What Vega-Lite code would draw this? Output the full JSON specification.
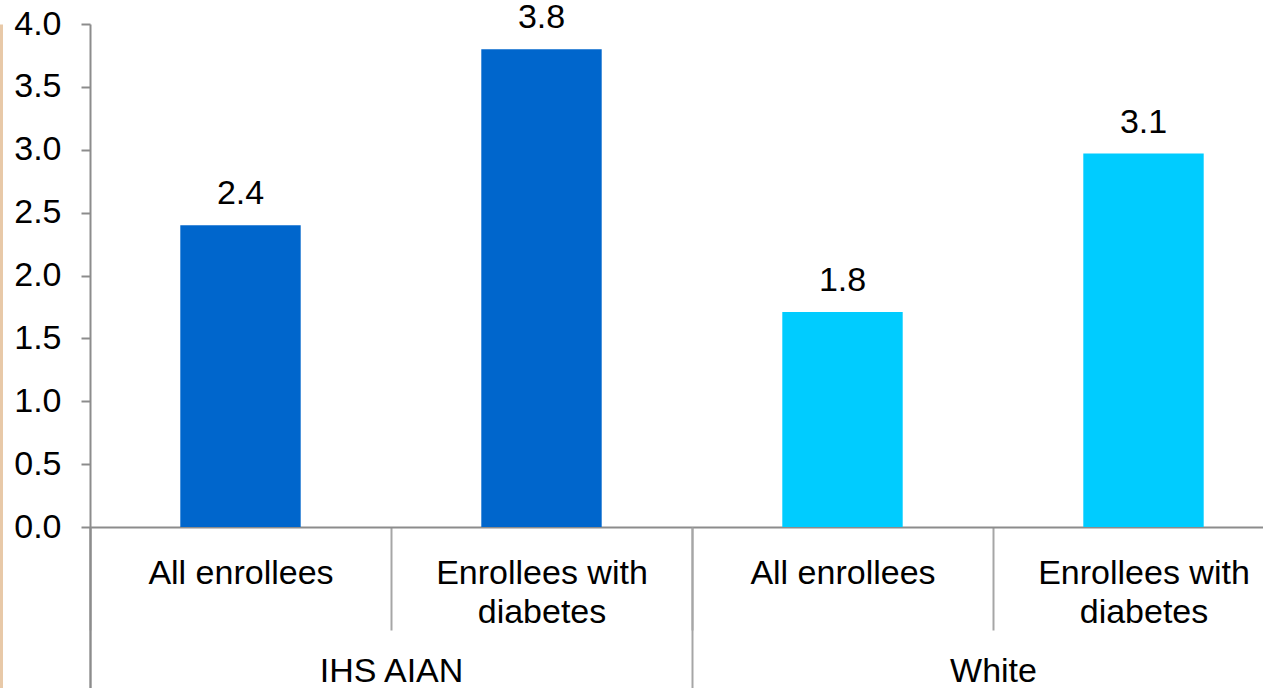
{
  "$schema": "https://vega.github.io/schema/vega-lite/v6.json",
  "width": 1173,
  "height": 664,
  "autosize": {"type": "none"},
  "padding": {"left": 90, "top": 24, "right": 0, "bottom": 0},
  "background": "white",
  "config": {"view": {"stroke": null}, "font": "Liberation Sans"},
  "data": {"values": [
    {"category": "IHS AIAN|All enrollees", "group": "IHS AIAN", "value": 2.4, "label": "2.4"},
    {"category": "IHS AIAN|Enrollees with diabetes", "group": "IHS AIAN", "value": 3.8, "label": "3.8"},
    {"category": "White|All enrollees", "group": "White", "value": 1.71, "label": "1.8"},
    {"category": "White|Enrollees with diabetes", "group": "White", "value": 2.97, "label": "3.1"}
  ]},
  "layer": [
    {
      "layer": [
        {
          "mark": {"type": "bar", "width": {"band": 0.4}},
          "encoding": {
            "x": {"field": "category", "type": "nominal", "sort": null,
              "scale": {"paddingInner": 0, "paddingOuter": 0, "range": [0, 1204]},
              "axis": {"orient": "bottom", "offset": -161, "title": null, "domain": true, "domainColor": "#8C8C8C", "domainWidth": 2,
                "ticks": true, "tickBand": "extent", "tickSize": 103, "tickColor": "#A6A6A6", "tickWidth": 2,
                "labelPadding": -74, "labelFontSize": 34, "labelColor": "black", "labelFont": "Liberation Sans", "labelAngle": 0,
                "labelLineHeight": 39, "labelLimit": 0, "labelOverlap": false,
                "labelExpr": "isString(datum.label) && indexof(datum.label, '|') >= 0 ? (indexof(datum.label, 'All enrollees') >= 0 ? 'All enrollees' : ['Enrollees with', 'diabetes']) : ''"}},
            "y": {"field": "value", "type": "quantitative",
              "scale": {"domain": [-1.2803, 4], "nice": false, "zero": false},
              "axis": {"orient": "left", "values": [0, 0.5, 1, 1.5, 2, 2.5, 3, 3.5, 4], "format": ".1f", "title": null,
                "domain": true, "domainColor": "#8C8C8C", "domainWidth": 2, "grid": false, "ticks": true, "tickSize": 9, "tickColor": "#8C8C8C", "tickWidth": 2,
                "labelPadding": 20, "labelFontSize": 34, "labelColor": "black", "labelFont": "Liberation Sans"}},
            "color": {"field": "group", "type": "nominal",
              "scale": {"domain": ["IHS AIAN", "White"], "range": ["#0066CC", "#00CCFF"]}, "legend": null}
          }
        },
        {
          "mark": {"type": "text", "dy": -21, "baseline": "alphabetic", "fontSize": 34, "color": "black", "font": "Liberation Sans"},
          "encoding": {
            "x": {"field": "category", "type": "nominal", "sort": null},
            "y": {"field": "value", "type": "quantitative"},
            "text": {"field": "label"}
          }
        }
      ]
    },
    {
      "mark": {"type": "bar", "opacity": 0},
      "encoding": {
        "x": {"field": "group", "type": "nominal",
          "scale": {"paddingInner": 0, "paddingOuter": 0, "range": [0, 1204]},
          "axis": {"orient": "bottom", "offset": -161, "title": null, "domain": false,
            "ticks": true, "tickBand": "extent", "tickSize": 161, "tickColor": "#A6A6A6", "tickWidth": 2,
            "labelPadding": -34, "labelFontSize": 34, "labelColor": "black", "labelFont": "Liberation Sans", "labelAngle": 0, "labelLimit": 0}},
        "y": {"field": "value", "type": "quantitative",
          "axis": {"orient": "left", "offset": 89, "title": null, "domain": true, "domainColor": "#E8C9A8", "domainWidth": 3,
            "ticks": false, "labels": false, "grid": false}}
      }
    }
  ],
  "resolve": {"scale": {"x": "independent"}, "axis": {"x": "independent", "y": "independent"}}
}
